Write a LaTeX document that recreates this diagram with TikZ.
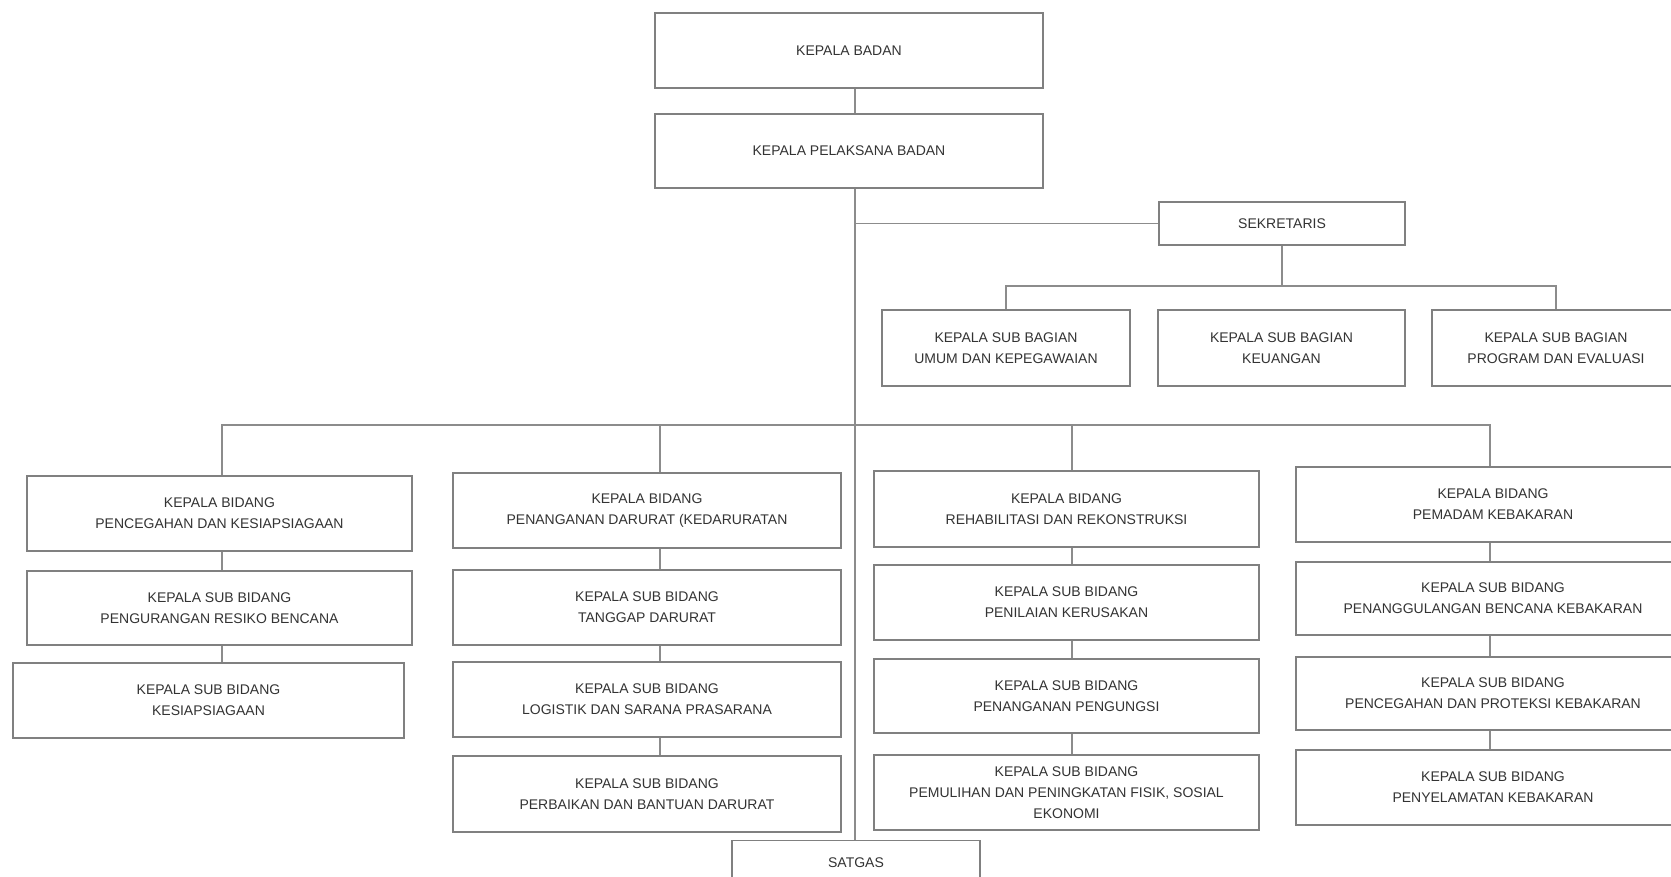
\documentclass[tikz,border=0pt]{standalone}
\usepackage{fontspec}
\setmainfont{Liberation Sans}
\begin{document}
\begin{tikzpicture}[x=1pt,y=-1pt,
  box/.style={draw=black!50, line width=1.2pt, align=center, inner sep=0pt, text=black!80,
    font=\fontsize{14}{21}\selectfont},
  conn/.style={draw=black!45, line width=1.1pt}]
\useasboundingbox (0,0) rectangle (1671,876);
\clip (0,0) rectangle (1671,876);
\fill[white] (0,0) rectangle (1671,876);

% column / trunk x positions
\coordinate (mx) at (855,0);
\coordinate (c1) at (222,0);
\coordinate (c2) at (660,0);
\coordinate (c3) at (1072,0);
\coordinate (c4) at (1490,0);
\coordinate (secbar) at (0,286);
\coordinate (bidbar) at (0,425);

% top
\node[box, minimum width=388pt, minimum height=75pt] (kb) at (849,50.5) {KEPALA BADAN};
\node[box, minimum width=388pt, minimum height=74pt] (kpb) at (849,151) {KEPALA PELAKSANA BADAN};
\node[box, minimum width=246pt, minimum height=43pt] (sek) at (1282,223.5) {SEKRETARIS};

% sub bagian
\node[box, minimum width=248pt, minimum height=76pt] (sb1) at (1006,348) {KEPALA SUB BAGIAN\\UMUM DAN KEPEGAWAIAN};
\node[box, minimum width=247pt, minimum height=76pt] (sb2) at (1281.5,348) {KEPALA SUB BAGIAN\\KEUANGAN};
\node[box, minimum width=248pt, minimum height=76pt] (sb3) at (1556,348) {KEPALA SUB BAGIAN\\PROGRAM DAN EVALUASI};

% column 1
\node[box, minimum width=385pt, minimum height=75pt] (b1) at (219.5,513.5) {KEPALA BIDANG\\PENCEGAHAN DAN  KESIAPSIAGAAN};
\node[box, minimum width=385pt, minimum height=74pt] (b1a) at (219.5,608) {KEPALA SUB BIDANG\\PENGURANGAN RESIKO BENCANA};
\node[box, minimum width=391pt, minimum height=75pt] (b1b) at (208.5,700.5) {KEPALA SUB BIDANG\\KESIAPSIAGAAN};

% column 2
\node[box, minimum width=388pt, minimum height=75pt] (b2) at (647,510.5) {KEPALA BIDANG\\PENANGANAN DARURAT (KEDARURATAN};
\node[box, minimum width=388pt, minimum height=75pt] (b2a) at (647,607.5) {KEPALA SUB BIDANG\\TANGGAP DARURAT};
\node[box, minimum width=388pt, minimum height=75pt] (b2b) at (647,699.5) {KEPALA SUB BIDANG\\LOGISTIK DAN SARANA PRASARANA};
\node[box, minimum width=388pt, minimum height=76pt] (b2c) at (647,794) {KEPALA SUB BIDANG\\PERBAIKAN DAN BANTUAN DARURAT};

% column 3
\node[box, minimum width=385pt, minimum height=76pt] (b3) at (1066.5,509) {KEPALA BIDANG\\REHABILITASI DAN REKONSTRUKSI};
\node[box, minimum width=385pt, minimum height=75pt] (b3a) at (1066.5,602.5) {KEPALA SUB BIDANG\\PENILAIAN KERUSAKAN};
\node[box, minimum width=385pt, minimum height=74pt] (b3b) at (1066.5,696) {KEPALA SUB BIDANG\\PENANGANAN PENGUNGSI};
\node[box, minimum width=385pt, minimum height=75pt] (b3c) at (1066.5,792.5) {KEPALA SUB BIDANG\\PEMULIHAN DAN PENINGKATAN FISIK, SOSIAL\\EKONOMI};

% column 4
\node[box, minimum width=394pt, minimum height=75pt] (b4) at (1493,504.5) {KEPALA BIDANG\\PEMADAM KEBAKARAN};
\node[box, minimum width=394pt, minimum height=73pt] (b4a) at (1493,598.5) {KEPALA SUB BIDANG\\PENANGGULANGAN BENCANA  KEBAKARAN};
\node[box, minimum width=394pt, minimum height=73pt] (b4b) at (1493,693.5) {KEPALA SUB BIDANG\\PENCEGAHAN DAN PROTEKSI KEBAKARAN};
\node[box, minimum width=394pt, minimum height=75pt] (b4c) at (1493,787.5) {KEPALA SUB BIDANG\\PENYELAMATAN KEBAKARAN};

% satgas
\node[box, anchor=north, minimum width=248pt, text height=27pt, text depth=48pt] (satgas) at (856,840) {SATGAS};

% connectors
\draw[conn] (kb.south -| mx) -- (kpb.north -| mx);
\draw[conn] (kpb.south -| mx) -- (satgas.north -| mx);
\draw[conn] (sek.west -| mx) -- (sek.west);
\draw[conn] (sek.south) -- (sek.south |- secbar);
\draw[conn] (sb1.north) |- (secbar -| sb3.north) -- (sb3.north);
\draw[conn] (b1.north -| c1) |- (bidbar -| c4) -- (b4.north -| c4);
\draw[conn] (bidbar -| c2) -- (b2.north -| c2);
\draw[conn] (bidbar -| c3) -- (b3.north -| c3);

\draw[conn] (b1.south -| c1) -- (b1a.north -| c1);
\draw[conn] (b1a.south -| c1) -- (b1b.north -| c1);
\draw[conn] (b2.south -| c2) -- (b2a.north -| c2);
\draw[conn] (b2a.south -| c2) -- (b2b.north -| c2);
\draw[conn] (b2b.south -| c2) -- (b2c.north -| c2);
\draw[conn] (b3.south -| c3) -- (b3a.north -| c3);
\draw[conn] (b3a.south -| c3) -- (b3b.north -| c3);
\draw[conn] (b3b.south -| c3) -- (b3c.north -| c3);
\draw[conn] (b4.south -| c4) -- (b4a.north -| c4);
\draw[conn] (b4a.south -| c4) -- (b4b.north -| c4);
\draw[conn] (b4b.south -| c4) -- (b4c.north -| c4);
\end{tikzpicture}
\end{document}
